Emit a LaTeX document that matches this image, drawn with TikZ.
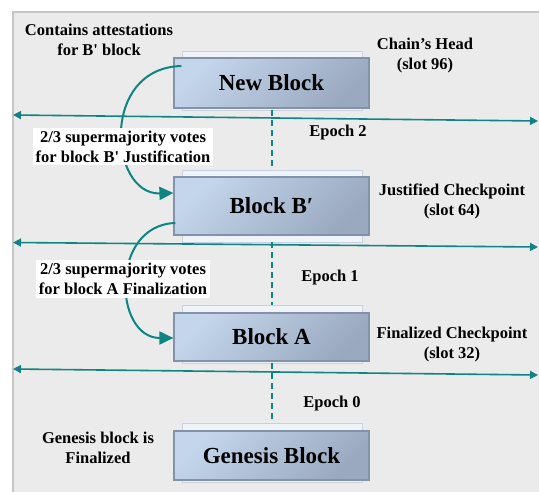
\documentclass[tikz,border=0pt]{standalone}
\usepackage{fontspec}
\setmainfont{Liberation Serif}
\newfontfamily\plainquote{Liberation Serif}[Mapping=]
\newcommand{\sq}{{\plainquote\symbol{39}}}
\usetikzlibrary{arrows.meta}

\definecolor{bgfill}{HTML}{EBEBEB}
\definecolor{bgline}{HTML}{C6C6C6}
\definecolor{tealc}{HTML}{0E8580}
\definecolor{tipblue}{HTML}{3F66B0}
\definecolor{boxlight}{HTML}{C4D6EC}
\definecolor{boxdark}{HTML}{9AA9BF}
\definecolor{boxline}{HTML}{8292A8}
\definecolor{backfill}{HTML}{EFF3FA}
\definecolor{backline}{HTML}{C9D1DE}

\begin{document}
\begin{tikzpicture}[x=1pt,y=-1pt,
  blockback/.style={draw=backline, fill=backfill, line width=0.8pt,
    minimum width=180pt, inner sep=0pt},
  blockfront/.style={draw=boxline, line width=1.2pt,
    top color=boxlight, bottom color=boxdark, shading angle=45,
    minimum width=195pt, inner sep=0pt,
    font=\fontsize{23}{27}\selectfont\bfseries},
  lbl/.style={font=\fontsize{16.5}{20}\selectfont\bfseries, align=center, inner sep=2pt},
  votes/.style={lbl, fill=white, inner xsep=3pt, inner ysep=3pt},
  epochline/.style={draw=tealc, line width=1.6pt,
    {Triangle[length=8pt,width=8pt,fill=tipblue]}-{Triangle[length=8pt,width=8pt,fill=tipblue]}},
  chainlink/.style={draw=tealc, line width=1.6pt, dash pattern=on 6pt off 4pt},
  votearrow/.style={draw=tealc, line width=2pt, -{Triangle[length=14pt,width=13pt,fill=tealc]}}
]
\useasboundingbox (0,0) rectangle (539,492);
\clip (0,0) rectangle (539,492);

% panel
\draw[fill=bgfill, draw=bgline, line width=2pt] (13,12) rectangle (560,510);

% epoch boundaries
\coordinate (e2w) at (13,115);  \coordinate (e2e) at (538,121);
\coordinate (e1w) at (13,242.5);\coordinate (e1e) at (538,247);
\coordinate (e0w) at (13,369);  \coordinate (e0e) at (538,375);
\draw[epochline] (e2w) -- (e2e);
\draw[epochline] (e1w) -- (e1e);
\draw[epochline] (e0w) -- (e0e);

% block backs
\node[blockback, minimum height=59pt] (nbb) at (272,80.5) {};
\node[blockback, minimum height=72pt] (bpb) at (272,206) {};
\node[blockback, minimum height=58pt] (ab)  at (272,334) {};
\node[blockback, minimum height=59pt] (gb)  at (272,452.5) {};

% chain links
\draw[chainlink] (nbb.south) -- (bpb.north);
\draw[chainlink] (bpb.south) -- (ab.north);
\draw[chainlink] (ab.south) -- (gb.north);

% block faces
\node[blockfront, minimum height=50pt] (nb) at (271.5,83) {New Block};
\node[blockfront, minimum height=58pt] (bp) at (271.5,206) {Block B′};
\node[blockfront, minimum height=48pt] (a)  at (271.5,337) {Block A};
\node[blockfront, minimum height=49pt] (g)  at (271.5,455.5) {Genesis Block};

% attestation arrows
\draw[votearrow] ([shift={(8,-17)}]nb.west) .. controls +(-82,2) and +(-64,2) .. ([shift={(0,-13)}]bp.west);
\draw[votearrow] ([shift={(2,17)}]bp.west) .. controls +(-66,2) and +(-60,0) .. ([shift={(0,1)}]a.west);

% labels
\node[votes] (v1) at (123,146.5) {2/3 supermajority votes\\for block B\sq{} Justification};
\node[votes] (v2) at (123,279) {2/3 supermajority votes\\for block A Finalization};

\node[lbl] (att) at (99,40) {Contains attestations\\for B\sq{} block};
\node[lbl] (head) at (425,56) {Chain’s Head\\(slot 96)};
\node[lbl] (just) at (452,201) {Justified Checkpoint\\(slot 64)};
\node[lbl] (fin) at (452,345) {Finalized Checkpoint\\(slot 32)};
\node[lbl] (gen) at (98,448) {Genesis block is\\Finalized};
\node[lbl] (ep2) at (338,133) {Epoch 2};
\node[lbl] (ep1) at (330,278) {Epoch 1};
\node[lbl] (ep0) at (332,404) {Epoch 0};
\end{tikzpicture}
\end{document}
